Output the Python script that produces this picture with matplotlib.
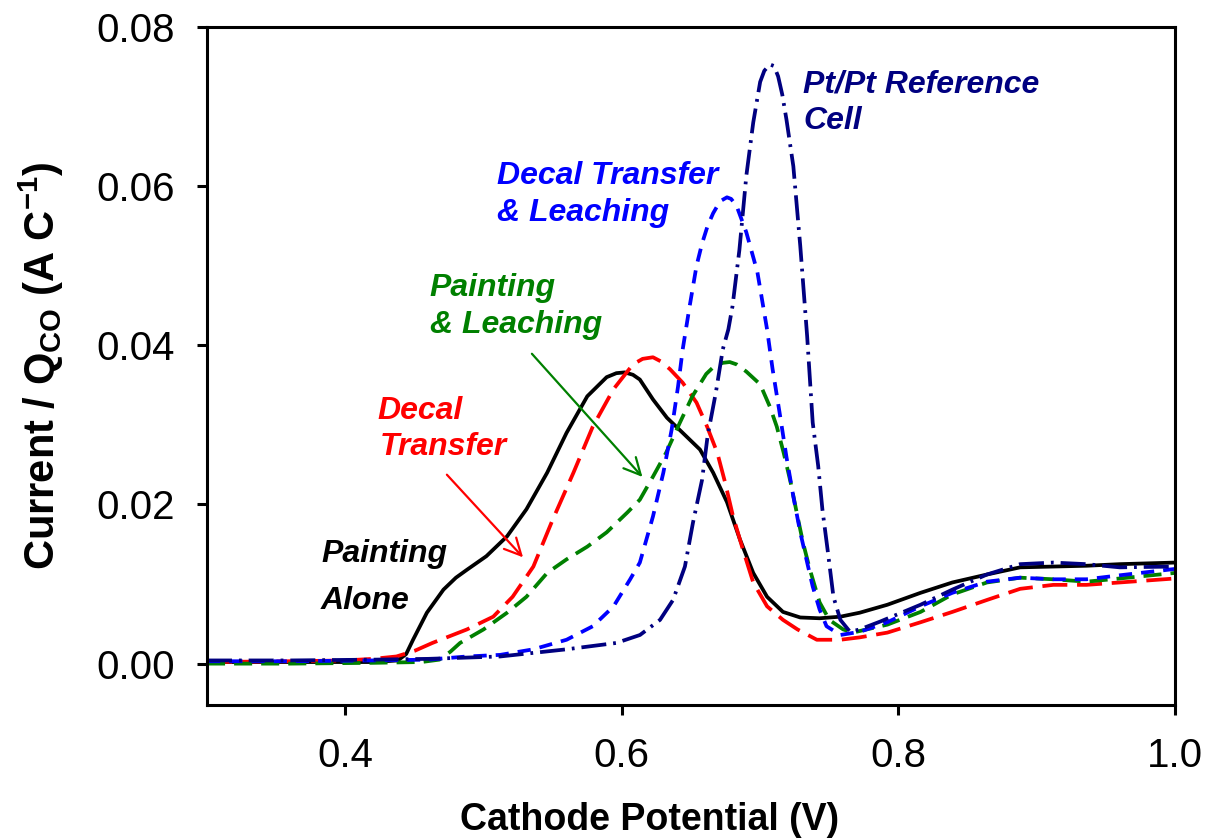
import matplotlib
matplotlib.use("Agg")
import matplotlib.pyplot as plt

plt.rcParams['font.family'] = ['Liberation Sans', 'DejaVu Sans']
plt.rcParams['mathtext.fontset'] = 'custom'
plt.rcParams['mathtext.rm'] = 'Liberation Sans'
plt.rcParams['mathtext.bf'] = 'Liberation Sans:bold'
plt.rcParams['lines.scale_dashes'] = False

# CO stripping voltammograms, current normalised by CO charge
v_paint = [0.30, 0.36, 0.42, 0.438, 0.444, 0.449, 0.459, 0.471, 0.480, 0.488, 0.502, 0.517,
           0.531, 0.546, 0.560, 0.575, 0.589, 0.596, 0.602, 0.608, 0.613, 0.6225, 0.6326,
           0.644, 0.6565, 0.666, 0.676, 0.6854, 0.695, 0.705, 0.7165, 0.729, 0.743, 0.758,
           0.772, 0.792, 0.816, 0.839, 0.864, 0.888, 0.912, 0.936, 0.960, 1.00]
i_paint = [0.0002, 0.0002, 0.0002, 0.0004, 0.0012, 0.0030, 0.0064, 0.0093, 0.0108, 0.0118,
           0.0135, 0.0160, 0.0194, 0.0240, 0.0290, 0.0336, 0.0360, 0.0365, 0.0366, 0.0363,
           0.0357, 0.0332, 0.0309, 0.0290, 0.0269, 0.0240, 0.0203, 0.0156, 0.0114, 0.0084,
           0.0065, 0.0058, 0.0057, 0.0059, 0.0064, 0.0074, 0.0089, 0.0102, 0.0112, 0.0121,
           0.0122, 0.0123, 0.0125, 0.0127]

v_decal = [0.30, 0.36, 0.40, 0.42, 0.437, 0.450, 0.463, 0.488, 0.507, 0.521, 0.536, 0.550,
           0.565, 0.579, 0.594, 0.608, 0.615, 0.6225, 0.628, 0.6348, 0.644, 0.654, 0.6616,
           0.669, 0.6746, 0.6804, 0.6876, 0.695, 0.705, 0.7165, 0.727, 0.741, 0.758, 0.772,
           0.792, 0.816, 0.839, 0.864, 0.888, 0.912, 0.936, 0.960, 1.00]
i_decal = [0.0002, 0.0003, 0.0004, 0.0006, 0.0009, 0.0016, 0.0026, 0.0043, 0.0059, 0.0084,
           0.0122, 0.0181, 0.0240, 0.0298, 0.0345, 0.0376, 0.0383, 0.0385, 0.0380, 0.0370,
           0.0353, 0.0328, 0.0298, 0.0265, 0.0228, 0.0185, 0.0143, 0.0102, 0.0072, 0.0055,
           0.0043, 0.0030, 0.0030, 0.0033, 0.0039, 0.0052, 0.0065, 0.0080, 0.0094, 0.0099,
           0.0099, 0.0102, 0.0107]

v_paint_leach = [0.30, 0.36, 0.42, 0.455, 0.468, 0.476, 0.483, 0.500, 0.517, 0.531, 0.546,
                 0.560, 0.575, 0.589, 0.604, 0.613, 0.6225, 0.632, 0.642, 0.651, 0.661, 0.667,
                 0.673, 0.678, 0.683, 0.690, 0.700, 0.707, 0.712, 0.717, 0.722, 0.727, 0.731,
                 0.736, 0.743, 0.750, 0.760, 0.767, 0.792, 0.816, 0.839, 0.864, 0.888, 0.912,
                 0.936, 0.960, 1.00]
i_paint_leach = [0.0000, 0.0000, 0.0001, 0.0002, 0.0005, 0.0015, 0.0026, 0.0043, 0.0064,
                 0.0084, 0.0114, 0.0131, 0.0147, 0.0165, 0.0190, 0.0206, 0.0235, 0.0265,
                 0.0303, 0.0336, 0.0364, 0.0374, 0.0378, 0.0379, 0.0376, 0.0367, 0.0351,
                 0.0323, 0.0298, 0.0265, 0.0228, 0.0185, 0.0152, 0.0118, 0.0077, 0.0055,
                 0.0043, 0.0039, 0.0049, 0.0065, 0.0087, 0.0102, 0.0108, 0.0106, 0.0103,
                 0.0107, 0.0114]

v_decal_leach = [0.30, 0.36, 0.42, 0.46, 0.488, 0.512, 0.536, 0.560, 0.579, 0.594, 0.606,
                 0.613, 0.6225, 0.630, 0.636, 0.6406, 0.644, 0.649, 0.654, 0.658, 0.662,
                 0.666, 0.669, 0.672, 0.676, 0.679, 0.683, 0.690, 0.698, 0.705, 0.709, 0.714,
                 0.719, 0.724, 0.729, 0.734, 0.738, 0.743, 0.748, 0.758, 0.772, 0.792, 0.816,
                 0.839, 0.864, 0.888, 0.912, 0.936, 0.960, 1.00]
i_decal_leach = [0.0003, 0.0003, 0.0004, 0.0005, 0.0009, 0.0011, 0.0018, 0.0030, 0.0047,
                 0.0072, 0.0106, 0.0127, 0.0185, 0.0240, 0.0294, 0.0348, 0.0395, 0.0449,
                 0.0500, 0.0528, 0.0550, 0.0566, 0.0575, 0.0582, 0.0586, 0.0584, 0.0575,
                 0.0542, 0.0492, 0.0420, 0.0370, 0.0316, 0.0260, 0.0210, 0.0165, 0.0127,
                 0.0097, 0.0068, 0.0047, 0.0036, 0.0040, 0.0052, 0.0072, 0.0089, 0.0103,
                 0.0108, 0.0106, 0.0106, 0.0111, 0.0119]

v_ref = [0.30, 0.36, 0.42, 0.46, 0.512, 0.560, 0.596, 0.6131, 0.6276, 0.637, 0.6456, 0.6514,
         0.658, 0.662, 0.668, 0.673, 0.677, 0.680, 0.685, 0.690, 0.695, 0.700, 0.703, 0.707,
         0.710, 0.713, 0.716, 0.719, 0.724, 0.729, 0.734, 0.736, 0.738, 0.742, 0.745, 0.749,
         0.753, 0.758, 0.765, 0.772, 0.787, 0.816, 0.839, 0.864, 0.888, 0.912, 0.936, 0.960,
         1.00]
i_ref = [0.0004, 0.0004, 0.0005, 0.0006, 0.0009, 0.0018, 0.0026, 0.0036, 0.0055, 0.0080,
         0.0122, 0.0177, 0.0231, 0.0286, 0.0341, 0.0395, 0.0420, 0.0449, 0.0520, 0.0613,
         0.0680, 0.0731, 0.0745, 0.0753, 0.0751, 0.0738, 0.0715, 0.0684, 0.0625, 0.0525,
         0.0411, 0.0357, 0.0303, 0.0248, 0.0194, 0.0140, 0.0084, 0.0055, 0.0040, 0.0043,
         0.0053, 0.0074, 0.0093, 0.0112, 0.0125, 0.0127, 0.0125, 0.0121, 0.0122]

x_ticks = [0.4, 0.6, 0.8, 1.0]
y_ticks = [0.00, 0.02, 0.04, 0.06, 0.08]

fig = plt.figure(figsize=(12.07, 8.39), dpi=100)
ax = fig.add_axes([0.1715, 0.1597, 0.8020, 0.8081])

lw = 2.7
ax.plot(v_paint, i_paint, color='black', lw=lw, solid_joinstyle='round')
ax.plot(v_decal, i_decal, color='#FF0000', lw=lw, dashes=(18, 7))
ax.plot(v_paint_leach, i_paint_leach, color='#008000', lw=lw, dashes=(13, 6.5))
ax.plot(v_decal_leach, i_decal_leach, color='#0000FF', lw=lw, dashes=(9.5, 6.5))
ax.plot(v_ref, i_ref, color='#000080', lw=lw, dashes=(18, 5, 2, 5))

ax.set_xlim(0.3, 1.0)
ax.set_ylim(-0.0052, 0.08)
ax.set_xticks(x_ticks)
ax.set_yticks(y_ticks)
ax.set_xticklabels([f"{t:.1f}" for t in x_ticks])
ax.set_yticklabels([f"{t:.2f}" for t in y_ticks])
ax.tick_params(direction='out', length=7, width=2.2, labelsize=29, pad=16)
for sp in ax.spines.values():
    sp.set_linewidth(2.2)

ax.set_xlabel('Cathode Potential (V)', fontsize=27, fontweight='bold')
ax.set_ylabel(r'Current / Q$_{\mathbf{CO}}$ (A C$^{\mathbf{-1}}$)', fontsize=30,
              fontweight='bold')
ax.xaxis.set_label_coords(0.457, -0.143)
ax.yaxis.set_label_coords(-0.146, 0.50)

# curve labels
lab = dict(fontsize=23, fontweight='bold', fontstyle='italic', va='baseline', ha='left')
ax.text(0.731, 0.0718, 'Pt/Pt Reference', color='#000080', **lab)
ax.text(0.731, 0.0672, 'Cell', color='#000080', **lab)
ax.text(0.5097, 0.0603, 'Decal Transfer', color='#0000FF', **lab)
ax.text(0.5097, 0.0556, '& Leaching', color='#0000FF', **lab)
ax.text(0.4612, 0.0462, 'Painting', color='#008000', **lab)
ax.text(0.4612, 0.0416, '& Leaching', color='#008000', **lab)
ax.text(0.4229, 0.0308, 'Decal', color='#FF0000', **lab)
ax.text(0.4250, 0.0262, 'Transfer', color='#FF0000', **lab)
ax.text(0.3824, 0.0128, 'Painting', color='black', **lab)
ax.text(0.3824, 0.0069, 'Alone', color='black', **lab)

ax.annotate('', xy=(0.5299, 0.0131), xytext=(0.4721, 0.0240),
            arrowprops=dict(arrowstyle='->', color='#FF0000', lw=1.6, mutation_scale=30))
ax.annotate('', xy=(0.6162, 0.0232), xytext=(0.5336, 0.0392),
            arrowprops=dict(arrowstyle='->', color='#008000', lw=1.6, mutation_scale=30))

fig.savefig('out.png', dpi=100)
